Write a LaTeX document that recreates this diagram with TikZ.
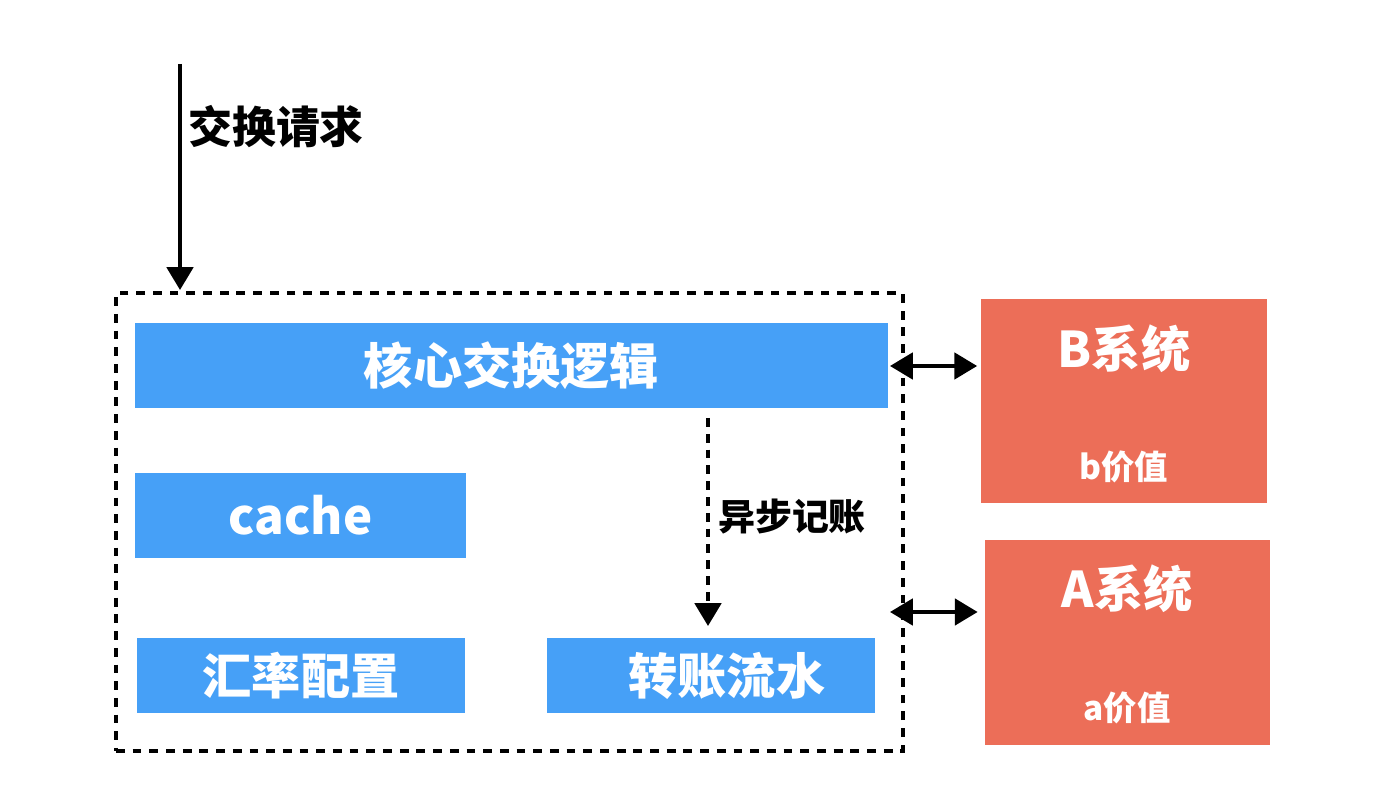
\documentclass[tikz,border=0pt]{standalone}
\usepackage{fontspec}
\setmainfont{Noto Sans CJK SC}
\usetikzlibrary{arrows.meta,positioning}
\definecolor{boxblue}{HTML}{46A0F7}
\definecolor{boxred}{HTML}{EC6E58}

\begin{document}
\begin{tikzpicture}[x=0.02cm,y=-0.02cm,
  part/.style={fill=boxblue,draw=none,inner sep=0pt,text=white,font=\bfseries\fontsize{28}{30}\selectfont},
  sysbox/.style={fill=boxred,draw=none,inner sep=0pt},
  systext/.style={text=white,font=\bfseries\fontsize{28}{30}\selectfont},
  valtext/.style={text=white,font=\bfseries\fontsize{19}{22}\selectfont},
  link/.style={line width=2.2pt,-{Triangle[width=15pt,length=13pt]}},
  twoway/.style={line width=2.2pt,{Triangle[width=15pt,length=13pt]}-{Triangle[width=15pt,length=13pt]}}]

  \useasboundingbox (0,0) rectangle (1374,810);

  % outer frame
  \node (frame) [draw,line width=2.2pt,dash pattern=on 5pt off 4.5pt,minimum width=787*0.02cm,minimum height=458*0.02cm,inner sep=0pt] at (509.5,522) {};

  % parts inside
  \node (core) [part,minimum width=753*0.02cm,minimum height=85*0.02cm] at (511.5,365.5) {核心交换逻辑};
  \node (cache) [part,minimum width=331*0.02cm,minimum height=85*0.02cm] at (300.5,515.5) {cache};
  \node (rate) [part,minimum width=328*0.02cm,minimum height=75*0.02cm] at (301,675.5) {汇率配置};
  \node (flow) [part,minimum width=328*0.02cm,minimum height=75*0.02cm] at (711,675.5) {\hspace{18pt}转账流水};

  % outer systems
  \node (bsys) [sysbox,minimum width=286*0.02cm,minimum height=204*0.02cm] at (1124,401) {};
  \node (bname) [systext] at (1124,349) {B系统};
  \node (bval) [valtext] at (1124,467) {b价值};
  \node (asys) [sysbox,minimum width=285*0.02cm,minimum height=205*0.02cm] at (1127.5,642.5) {};
  \node (aname) [systext] at (1127,589) {A系统};
  \node (aval) [valtext] at (1127,708) {a价值};

  % request
  \coordinate (src) at (180,64);
  \coordinate (dst) at (180,290);
  \draw[link] (src) -- (dst);
  \node (req) [anchor=west,font=\bfseries\fontsize{25}{27}\selectfont] at (182,127) {交换请求};

  % async booking
  \coordinate (bk1) at (708,418);
  \coordinate (bk2) at (708,626);
  \draw[link,dash pattern=on 5pt off 4pt] (bk1) -- (bk2);
  \node (book) [anchor=west,font=\bfseries\fontsize{21}{23}\selectfont] at (712,517) {异步记账};

  % links to systems
  \coordinate (bl) at (890,366);
  \coordinate (al) at (890,612);
  \draw[twoway] (bl) -- ([xshift=-2pt]bl -| bsys.west);
  \draw[twoway] (al) -- ([xshift=-4pt]al -| asys.west);

\end{tikzpicture}
\end{document}
